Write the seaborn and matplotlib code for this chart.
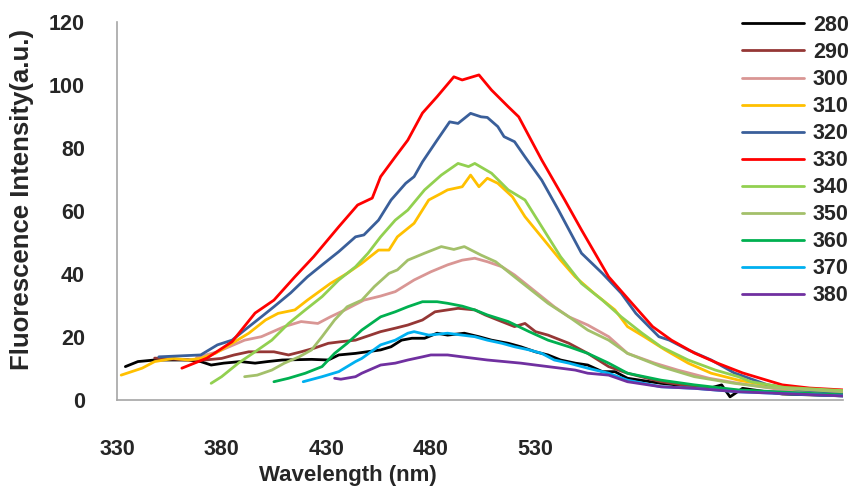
import matplotlib
matplotlib.use("Agg")
import matplotlib.pyplot as plt
import pandas as pd
import seaborn as sns

# excitation wavelengths (legend labels) and their line colours
excitation = ["280", "290", "300", "310", "320", "330", "340", "350", "360", "370", "380"]
colors = ["#000000", "#953735", "#D99694", "#FFC000", "#3A5F9A", "#FF0000",
          "#92D050", "#A3C06A", "#00B050", "#00B0F0", "#7030A0"]

# emission spectra: wavelength (nm) / intensity (a.u.)
wl_280 = [334, 340, 348, 364, 370, 375, 381, 389, 396, 402, 409, 423, 431, 436, 444, 456, 461, 466, 471, 477,
          483, 488, 496, 503, 509, 517, 523, 530, 536, 542, 549, 555, 562, 568, 574, 590, 606, 613, 619, 623,
          629, 648, 677]
int_280 = [10.6, 12.2, 12.7, 12.7, 12.2, 11.1, 11.7, 12.2, 11.7, 12.2, 12.7, 12.9, 12.7, 14.3, 14.8, 15.9, 16.9,
           19.0, 19.6, 19.6, 21.2, 20.6, 21.2, 20.1, 19.0, 18.0, 16.9, 15.3, 14.3, 12.7, 11.7, 11.1, 9.0, 9.0,
           6.9, 5.3, 4.2, 3.7, 4.8, 1.0, 3.7, 1.9, 1.3]

wl_290 = [348, 364, 372, 380, 386, 393, 405, 412, 418, 424, 431, 437, 444, 456, 463, 469, 476, 482, 488, 493,
          501, 506, 512, 520, 525, 530, 536, 546, 555, 565, 574, 590, 606, 622, 677]
int_290 = [13.3, 12.7, 12.7, 13.2, 14.3, 15.3, 15.3, 14.3, 15.3, 16.4, 18.0, 18.5, 19.0, 21.7, 22.8, 23.8, 25.4,
           28.0, 28.6, 29.1, 28.6, 27.0, 25.4, 23.3, 24.3, 21.7, 20.6, 18.0, 14.8, 10.6, 8.5, 5.8, 4.2, 3.2, 1.6]

wl_300 = [368, 378, 391, 399, 410, 418, 426, 432, 439, 448, 456, 463, 472, 480, 488, 495, 501, 507, 514, 520,
          527, 533, 539, 546, 555, 565, 574, 587, 598, 613, 627, 650, 677]
int_300 = [13.5, 15.3, 19.0, 20.1, 23.3, 24.9, 24.3, 26.4, 28.6, 31.7, 33.0, 34.4, 38.1, 40.7, 42.9, 44.4, 45.0,
           43.9, 42.3, 39.7, 36.0, 32.8, 29.6, 26.4, 23.8, 20.1, 14.8, 11.7, 9.5, 6.9, 5.3, 3.0, 1.9]

wl_310 = [332, 342, 348, 357, 364, 370, 377, 385, 393, 401, 407, 415, 421, 432, 440, 447, 455, 460, 464, 472,
          479, 485, 488, 495, 499, 503, 507, 512, 519, 525, 542, 549, 558, 568, 574, 582, 592, 603, 614, 627,
          649, 677]
int_310 = [7.9, 10.1, 12.2, 13.2, 12.7, 13.2, 14.8, 18.0, 21.2, 25.4, 27.5, 28.6, 31.7, 37.0, 40.2, 43.4, 47.6,
           47.6, 51.8, 56.1, 63.5, 65.6, 66.7, 67.7, 71.4, 67.7, 70.4, 68.8, 64.5, 58.2, 44.4, 39.1, 33.9, 28.6,
           23.3, 20.1, 15.9, 11.7, 8.5, 6.3, 3.7, 2.6]

wl_320 = [350, 370, 378, 385, 391, 399, 405, 413, 421, 429, 436, 444, 448, 455, 461, 468, 472, 476, 483, 489,
          493, 499, 504, 507, 512, 515, 520, 525, 533, 541, 552, 562, 571, 578, 589, 594, 603, 614, 625, 641,
          657, 677]
int_320 = [13.7, 14.3, 17.5, 19.0, 22.2, 26.4, 29.6, 34.0, 39.1, 43.4, 47.1, 51.8, 52.4, 57.1, 63.5, 68.8, 70.9,
           75.6, 82.5, 88.3, 87.8, 91.0, 89.9, 89.7, 86.8, 83.6, 82.0, 77.2, 69.8, 60.3, 46.6, 40.2, 33.9, 27.5,
           20.1, 19.0, 15.9, 12.7, 8.6, 4.8, 3.2, 2.2]

wl_330 = [361, 373, 385, 396, 405, 415, 424, 436, 445, 452, 456, 463, 469, 476, 483, 491, 495, 503, 509, 517,
          522, 533, 544, 552, 565, 576, 586, 595, 606, 617, 629, 637, 648, 661, 677]
int_330 = [10.1, 13.3, 18.5, 27.6, 31.7, 39.1, 45.5, 55.0, 61.9, 64.1, 70.9, 77.2, 82.5, 91.1, 96.3, 102.6,
           101.6, 103.2, 98.4, 93.1, 89.9, 76.2, 63.5, 54.0, 39.1, 30.8, 23.3, 19.0, 14.9, 11.7, 8.6, 7.0, 4.8,
           3.8, 3.2]

wl_340 = [375, 380, 388, 396, 404, 412, 420, 428, 436, 444, 450, 456, 463, 469, 477, 485, 493, 498, 501, 509,
          517, 525, 530, 542, 552, 562, 571, 581, 590, 603, 616, 627, 633, 649, 677]
int_340 = [5.3, 7.4, 11.7, 15.3, 19.0, 24.3, 28.6, 32.8, 38.1, 42.3, 46.6, 51.8, 57.1, 60.3, 66.7, 71.4, 75.1,
           74.1, 75.1, 72.0, 66.7, 63.5, 58.2, 45.5, 37.0, 31.7, 26.4, 21.2, 16.9, 12.7, 9.5, 7.4, 5.8, 4.0, 3.0]

wl_350 = [391, 397, 404, 410, 417, 423, 428, 434, 440, 447, 453, 460, 464, 469, 477, 485, 491, 496, 504, 511,
          520, 528, 536, 546, 555, 565, 574, 590, 606, 625, 641, 677]
int_350 = [7.4, 7.9, 9.5, 11.7, 13.7, 15.9, 20.1, 25.4, 29.6, 31.7, 36.0, 40.2, 41.3, 44.4, 46.6, 48.7, 47.8,
           48.7, 46.0, 43.9, 39.1, 34.9, 30.7, 26.4, 22.2, 19.0, 14.8, 10.6, 7.4, 5.3, 4.0, 2.6]

wl_360 = [405, 412, 420, 428, 434, 440, 447, 456, 463, 469, 476, 483, 488, 495, 501, 507, 517, 527, 536, 546,
          555, 565, 574, 590, 606, 627, 677]
int_360 = [5.8, 6.9, 8.5, 10.6, 14.8, 18.0, 22.2, 26.4, 28.0, 29.6, 31.2, 31.2, 30.7, 29.8, 28.6, 27.0, 24.9,
           21.7, 19.0, 16.9, 14.8, 11.7, 8.5, 6.3, 4.8, 3.2, 1.6]

wl_370 = [419, 428, 436, 444, 447, 456, 463, 469, 472, 479, 488, 495, 501, 507, 514, 520, 527, 533, 539, 546,
          555, 565, 574, 590, 606, 627, 677]
int_370 = [5.8, 7.4, 9.0, 12.2, 13.2, 17.5, 19.0, 21.2, 21.7, 20.6, 21.2, 20.6, 20.1, 19.0, 18.0, 16.9, 15.9,
           14.8, 12.7, 11.7, 10.1, 8.5, 6.3, 4.2, 3.7, 2.6, 1.3]

wl_380 = [434, 437, 444, 447, 456, 463, 469, 476, 480, 488, 495, 501, 507, 515, 523, 530, 536, 542, 549, 555,
          565, 574, 590, 606, 627, 677]
int_380 = [6.9, 6.6, 7.4, 8.5, 11.1, 11.7, 12.7, 13.7, 14.3, 14.3, 13.7, 13.2, 12.7, 12.2, 11.7, 11.1, 10.6,
           10.1, 9.5, 8.5, 7.9, 5.8, 4.2, 3.7, 2.6, 1.3]

x_ticks = [330, 380, 430, 480, 530]
y_ticks = [0, 20, 40, 60, 80, 100, 120]

series = {
    "280": (wl_280, int_280), "290": (wl_290, int_290), "300": (wl_300, int_300),
    "310": (wl_310, int_310), "320": (wl_320, int_320), "330": (wl_330, int_330),
    "340": (wl_340, int_340), "350": (wl_350, int_350), "360": (wl_360, int_360),
    "370": (wl_370, int_370), "380": (wl_380, int_380),
}

# long-format table for seaborn
rows = []
for ex in excitation:
    wl, val = series[ex]
    rows += [(w, v, ex) for w, v in zip(wl, val)]
df = pd.DataFrame(rows, columns=["wavelength", "intensity", "excitation"])

sns.set_style("white")
plt.rcParams["font.family"] = ["Liberation Sans Narrow", "Liberation Sans", "DejaVu Sans"]
plt.rcParams["font.weight"] = "bold"

fig = plt.figure(figsize=(8.51, 4.90), dpi=100)
ax = fig.add_axes([117 / 851, 90 / 490, 726 / 851, 378 / 490])

sns.lineplot(data=df, x="wavelength", y="intensity", hue="excitation",
             hue_order=excitation, palette=dict(zip(excitation, colors)),
             estimator=None, linewidth=2.0, ax=ax)

ax.set_xlim(330, 677)
ax.set_ylim(0, 120)
ax.set_xticks(x_ticks)
ax.set_yticks(y_ticks)
ax.tick_params(axis="both", length=0, labelsize=15.5)
ax.tick_params(axis="y", pad=23)
ax.tick_params(axis="x", pad=28)

# excel-like axes: only grey left/bottom lines
sns.despine(ax=ax)
for side in ["left", "bottom"]:
    ax.spines[side].set_color("#A6A6A6")
    ax.spines[side].set_linewidth(1.2)

ax.set_xlabel("Wavelength (nm)", fontsize=16, fontweight="bold")
ax.xaxis.set_label_coords(0.318, -0.172)
ax.set_ylabel("Fluorescence Intensity(a.u.)", fontsize=18.5, fontweight="bold",
              family=["Liberation Sans", "DejaVu Sans"])
ax.yaxis.set_label_coords(-0.115, 0.53)

# legend on the right, no frame
handles, labels = ax.get_legend_handles_labels()
ax.get_legend().remove()
for h in handles:
    h.set_linewidth(2.0)
fig.legend(handles, labels, loc="upper left", bbox_to_anchor=(742 / 851, 1 - 15 / 490),
           frameon=False, handlelength=2.9, handletextpad=0.4, labelspacing=0.28,
           borderaxespad=0, borderpad=0, fontsize=15.5)

fig.savefig("out.png", dpi=100)
plt.close(fig)
